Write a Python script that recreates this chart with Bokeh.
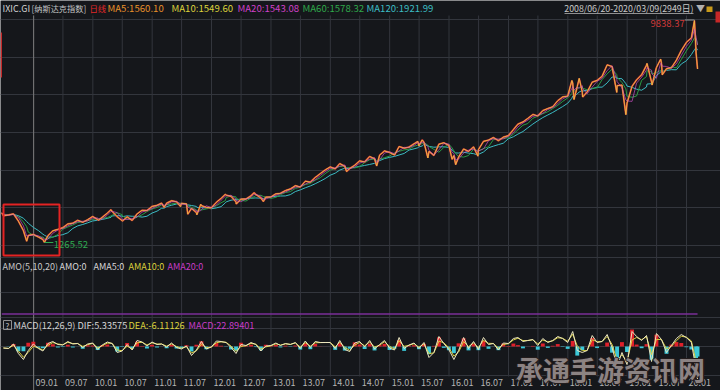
import pandas as pd
from bokeh.plotting import figure
from bokeh.models import Range1d, Grid, FixedTicker
from bokeh.core.properties import value
from bokeh.embed import file_html
from bokeh.resources import INLINE

# ---------------- data ----------------
# month-end closes, 2008-06 .. 2020-02
month_close = [2293, 2326, 2368, 2092, 1721, 1536, 1577,
               1476, 1378, 1529, 1717, 1774, 1835, 1979, 2009, 2122, 2045, 2145, 2269,
               2147, 2238, 2398, 2461, 2257, 2109, 2255, 2114, 2369, 2507, 2498, 2653,
               2700, 2782, 2781, 2874, 2835, 2774, 2756, 2579, 2415, 2684, 2620, 2605,
               2814, 2967, 3091, 3046, 2827, 2935, 2940, 3067, 3116, 2977, 3010, 3020,
               3142, 3160, 3268, 3329, 3456, 3403, 3626, 3590, 3771, 3920, 4060, 4177,
               4104, 4308, 4199, 4115, 4243, 4408, 4370, 4580, 4493, 4631, 4792, 4736,
               4635, 4964, 4901, 4941, 5070, 4987, 5128, 4777, 4620, 5054, 5109, 5007,
               4614, 4558, 4870, 4775, 4948, 4843, 5162, 5213, 5312, 5189, 5324, 5383,
               5615, 5825, 5912, 6048, 6199, 6140, 6348, 6429, 6496, 6728, 6874, 6903,
               7411, 7273, 7063, 7066, 7442, 7510, 7672, 8110, 8046, 7306, 7331, 6635,
               7282, 7533, 7729, 8095, 7453, 8006, 8175, 7963, 7999, 8292, 8665, 8973,
               9151, 8567]

# intra-month turning points
key_dates = ["2008-06-20", "2008-11-20", "2009-03-09", "2010-02-05", "2010-04-23",
             "2010-07-02", "2011-03-16", "2011-06-24", "2011-08-08", "2011-10-03",
             "2011-10-27", "2012-03-26", "2012-06-01", "2012-09-19", "2012-11-15",
             "2014-04-11", "2014-10-13", "2015-06-23", "2015-07-20", "2015-08-24",
             "2016-01-20", "2016-02-11", "2016-06-27", "2018-01-26", "2018-02-08",
             "2018-03-12", "2018-04-02", "2018-10-29", "2018-12-24", "2019-05-03",
             "2019-06-03", "2019-07-26", "2019-08-05", "2020-02-19", "2020-03-09"]
key_close = [2406, 1316, 1268, 2126, 2530, 2091, 2617, 2652, 2357, 2335,
             2738, 3123, 2747, 3182, 2846, 3999, 4214, 5160, 5219, 4526,
             4472, 4266, 4594, 7505, 6777, 7588, 6870, 7050, 6193, 8164,
             7333, 8330, 7726, 9817, 7950]

high_value, high_date = 9838.37, "2020-02-19"
low_value, low_date = 1265.52, "2009-03-09"

# MACD DIF, month ends 2008-06 .. 2020-02, then 2020-03-09
dif_values = [-15, -20, 25, -70, -130, -40, 25,
              -20, -45, 30, 50, 20, 15, 50, 25, 30, -10, 25, 35,
              -30, 15, 45, 30, -60, -45, 20, -35, 60, 45, 5, 45,
              20, 25, -5, 35, -10, -25, 5, -90, -35, 50, -25, -5,
              55, 50, 40, -10, -70, 20, 10, 40, 20, -45, 5, 10,
              35, 10, 30, 20, 40, -20, 55, -10, 50, 40, 40, 40,
              -20, 60, -30, -50, 35, 50, -5, 60, -25, 20, 60, -15,
              -35, 90, -20, 15, 35, -20, 40, -110, -60, 100, 30, -30,
              -130, -40, 90, -20, 50, -30, 90, 20, 30, -35, 35, 30,
              80, 90, 50, 60, 70, 10, 80, 40, 60, 100, 80, 40,
              150, -40, -60, -40, 110, 40, 50, 120, -10, -200, -60, -180,
              150, 100, 60, 110, -150, 130, 70, -60, 10, 80, 120, 90,
              40, -230, -330]

amo_dates = ["2008-06-20", "2020-03-09"]
amo_values = [0, 0]

tick_labels = ["09.01", "09.07", "10.01", "10.07", "11.01", "11.07", "12.01", "12.07",
               "13.01", "13.07", "14.01", "14.07", "15.01", "15.07", "16.01", "16.07",
               "17.01", "17.07", "18.01", "18.07", "19.01", "19.07", "20.01"]

# ---------------- derived series ----------------
me = pd.period_range("2008-06", periods=len(month_close), freq="M").to_timestamp(how="end").normalize()
s = pd.concat([pd.Series(month_close, index=me, dtype=float),
               pd.Series(key_close, index=pd.to_datetime(key_dates), dtype=float)]).sort_index()
s = s[~s.index.duplicated(keep="last")]
ma20 = s.rolling("40D").mean()
ma60 = s.rolling("90D").mean()
ma120 = s.rolling("175D").mean()

macd_dates = list(me) + [pd.Timestamp("2020-03-09")]
dif = pd.Series(dif_values, index=pd.DatetimeIndex(macd_dates), dtype=float)
dea = dif.ewm(alpha=0.72, adjust=False).mean()
hist = 2 * (dif - dea)
hist_colors = ["#e0202a" if h >= 0 else "#3cc8d8" for h in hist]

tick_dates = pd.to_datetime(["20" + t.replace(".", "-") + "-01" for t in tick_labels])

# ---------------- layout scales ----------------
W, H = 720, 390
px_per_day = 653 / 4017.0
x_start = pd.Timestamp("2009-01-01") - pd.Timedelta(days=33 / px_per_day)
x_end = x_start + pd.Timedelta(days=W / px_per_day)

val_per_px = (high_value - low_value) / (242 - 19.5)
main_hi = low_value + 242 * val_per_px
main_lo = low_value - (H - 242) * val_per_px
main_ticks = [1150 + k * 1451.3 for k in range(7)]

macd_zero, macd_per_px = 346, 10.0
amo_zero = 313.5

BG = "#15171b"
GRID = "#33363d"
FONT = value("Noto Sans CJK SC")

p = figure(width=W, height=H, x_range=Range1d(x_start, x_end),
           y_range=Range1d(main_lo, main_hi),
           x_axis_type=None, y_axis_type=None,
           output_backend="svg", toolbar_location=None, min_border=0,
           background_fill_color=BG, border_fill_color=BG, outline_line_color=None)
p.center = []
p.extra_x_ranges = {"px": Range1d(0, W)}
p.extra_y_ranges = {"px": Range1d(H, 0),
                    "macd": Range1d(-(H - macd_zero) * macd_per_px, macd_zero * macd_per_px),
                    "amo": Range1d(-(H - amo_zero), amo_zero)}

# grids
p.add_layout(Grid(dimension=1, ticker=FixedTicker(ticks=main_ticks), grid_line_color=GRID))
p.add_layout(Grid(dimension=1, y_range_name="px", ticker=FixedTicker(ticks=[257, 292, 317, 375]),
                  grid_line_color=GRID))
p.add_layout(Grid(dimension=1, y_range_name="macd", ticker=FixedTicker(ticks=[0, 180]),
                  grid_line_color=GRID))
p.segment(x0=tick_dates, x1=tick_dates, y0=15, y1=376, y_range_name="px",
          line_color=GRID, line_width=1)
# cursor line
p.segment(x0=[pd.Timestamp("2009-01-02")], x1=[pd.Timestamp("2009-01-02")], y0=15, y1=390,
          y_range_name="px", line_color="#7c7c7c", line_width=1)

# main panel
p.line(ma120.index, ma120.values, line_color="#3cbcc4", line_width=1.0)
p.line(ma60.index, ma60.values, line_color="#2a9a44", line_width=1.0)
p.line(s.index, s.values, line_color="#d8303a", line_width=1.8, line_alpha=0.95)
p.line(s.index, s.values, line_color="#eda040", line_width=0.9)
p.line(ma20.index, ma20.values, line_color="#d050c8", line_width=0.8, line_alpha=0.85)
p.line(s.index, s.values, line_color="#e8d84a", line_width=0.5, line_alpha=0.75)

hd, ld = pd.Timestamp(high_date), pd.Timestamp(low_date)
p.segment(x0=[hd - pd.Timedelta(days=58)], x1=[hd], y0=[high_value], y1=[high_value],
          line_color="#9a9a9a", line_width=1)
p.text(x=[hd - pd.Timedelta(days=60)], y=[high_value], text=[f"{high_value:.2f}"],
       text_align="right", text_baseline="middle", y_offset=3, text_color="#d03a3a",
       text_font=FONT, text_font_size="9.5px")
p.segment(x0=[ld], x1=[ld + pd.Timedelta(days=55)], y0=[low_value], y1=[low_value],
          line_color="#2eaa50", line_width=1)
p.text(x=[ld + pd.Timedelta(days=58)], y=[low_value], text=[f"{low_value:.2f}"],
       text_align="left", text_baseline="middle", y_offset=1.5, text_color="#2eaa50",
       text_font=FONT, text_font_size="9.5px")

# red highlight box
p.quad(left=[3], right=[59], top=[204], bottom=[255], x_range_name="px", y_range_name="px",
       fill_color=None, line_color="#e42323", line_width=2)

# AMO panel
p.line(pd.to_datetime(amo_dates), amo_values, y_range_name="amo", line_color="#7a2f98", line_width=1.6)

# MACD panel
p.vbar(x=dif.index, top=hist.values, bottom=0, width=pd.Timedelta(days=24),
       y_range_name="macd", fill_color=hist_colors, line_color=None)
p.line(dea.index, dea.values, y_range_name="macd", line_color="#dcd23c", line_width=1)
p.line(dif.index, dif.values, y_range_name="macd", line_color="#ece6c0", line_width=1)

# texts
def put(txt, x, y, color, size="10px", align="left", bold=False, alpha=1.0):
    p.text(x=[x], y=[y], text=[txt], x_range_name="px", y_range_name="px",
           text_align=align, text_baseline="middle", text_color=color, text_alpha=alpha,
           text_font=FONT, text_font_size=size,
           text_font_style="bold" if bold else "normal")

TY = 7.5
put("IXIC.GI", 2, TY, "#d2d2d2", "9px")
put("[纳斯达克指数]", 31, TY, "#c4c4c4", "8.2px")
put("日线", 89, TY, "#e02828", "8.4px")
put("MA5:1560.10", 107, TY, "#e8902a", "9.6px")
put("MA10:1549.60", 171, TY, "#dcd23c", "9.6px")
put("MA20:1543.08", 237, TY, "#d040c8", "9.6px")
put("MA60:1578.32", 302, TY, "#2fa84a", "9.6px")
put("MA120:1921.99", 366, TY, "#3cbcc4", "9.6px")
put("2008/06/20-2020/03/09(2949日)", 693, TY, "#c8c8c8", "8.8px", align="right")
p.segment(x0=[564], x1=[693], y0=[13], y1=[13], x_range_name="px", y_range_name="px",
          line_color="#b0b0b0", line_width=0.8)
put("▼", 700, TY, "#b0b0b0", "9px", align="center")
p.quad(left=[706], right=[712], top=[6], bottom=[11.5], x_range_name="px", y_range_name="px",
       fill_color="#c89a1a", line_color=None)
p.quad(left=[715], right=[720], top=[11], bottom=[22], x_range_name="px", y_range_name="px",
       fill_color="#c62828", line_color=None)
p.quad(left=[0], right=[1.5], top=[32], bottom=[77], x_range_name="px", y_range_name="px",
       fill_color="#c62828", line_color=None)

AY = 265.5
put("AMO(5,10,20)", 2, AY, "#c8c8c8", "9px")
put("AMO:0", 59, AY, "#d8d8d8", "9px")
put("AMA5:0", 93, AY, "#d8d8d8", "9px")
put("AMA10:0", 128, AY, "#dcd23c", "9px")
put("AMA20:0", 167, AY, "#c83cc8", "9px")

MY = 324.5
p.quad(left=[3], right=[11], top=[320], bottom=[329], x_range_name="px", y_range_name="px",
       fill_color=None, line_color="#909090", line_width=1)
put("?", 7, MY, "#c8c8c8", "8px", align="center")
put("MACD(12,26,9)", 13, MY, "#d0d0d0", "9.2px")
put("DIF:5.33575", 77, MY, "#d8d8d8", "9.2px")
put("DEA:-6.11126", 128, MY, "#dcd23c", "9.2px")
put("MACD:22.89401", 188, MY, "#c83cc8", "9.2px")

# x tick labels
p.text(x=tick_dates, y=[382] * len(tick_labels), text=tick_labels, y_range_name="px",
       x_offset=2, text_align="left", text_baseline="middle", text_color="#b4b4b4",
       text_font=FONT, text_font_size="9px")

# watermark
for dx, dy in [(-1.2, 0), (1.2, 0), (0, -1.2), (0, 1.2)]:
    put("承通手游资讯网", 610 + dx, 369 + dy, "#241c1c", "27px", align="center", bold=True)
put("承通手游资讯网", 610, 369, "#8c8383", "27px", align="center", bold=True)

open("out.html", "w").write(file_html(p, INLINE))
